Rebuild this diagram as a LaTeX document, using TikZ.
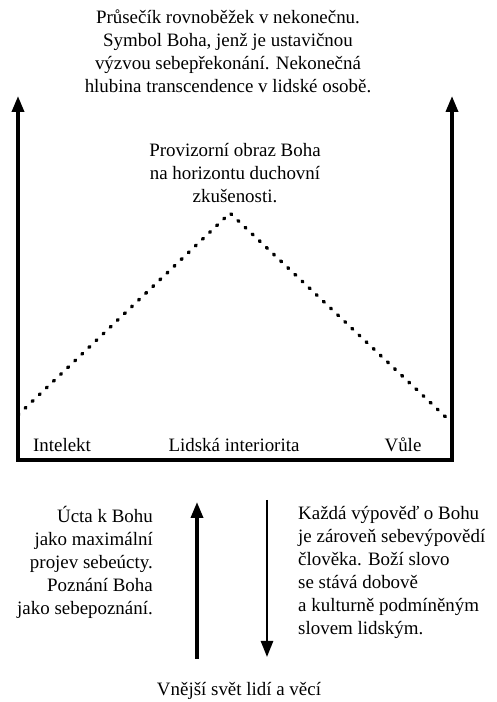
\documentclass[tikz,border=0pt]{standalone}
\usepackage{fontspec}
\setmainfont{Liberation Serif}
\usetikzlibrary{arrows.meta}

\begin{document}
\begin{tikzpicture}[x=10bp, y=10bp, every node/.style={font=\fontsize{19}{23}\selectfont, inner sep=0pt}, >={Triangle[length=16bp, width=12bp]},
	frame/.style={line width=3.5bp, line join=miter},
	dotline/.style={line width=3.5bp, line cap=round, dash pattern=on 1.2bp off 8.6bp}]
	\useasboundingbox (0,0) rectangle (49.7,70.2);
	% frame of the human interior
	\coordinate (tl) at (1.8,60.6);
	\coordinate (bl) at (1.8,24.2);
	\coordinate (br) at (45.2,24.2);
	\coordinate (tr) at (45.2,60.6);
	\draw[frame, <->] (tl) -- (bl) -- (br) -- (tr);
	% horizon of spiritual experience
	\coordinate (hl) at (1.8,28.7);
	\coordinate (peak) at (23.0,48.9);
	\coordinate (hr) at (45.2,27.9);
	\draw[dotline] (hl) -- (peak) -- (hr);
	\node[align=center] (infinity) at (22.8,65.1) {Průsečík rovnoběžek v nekonečnu.\\ Symbol Boha, jenž je ustavičnou\\ výzvou sebepřekonání. Nekonečná\\ hlubina transcendence v lidské osobě.};
	\node[align=center] (image) at (23.5,52.9) {Provizorní obraz Boha\\ na horizontu duchovní\\ zkušenosti.};
	\node (intellect) at (6.2,25.7) {Intelekt};
	\node (interior) at (23.4,25.7) {Lidská interiorita};
	\node (will) at (40.3,25.7) {Vůle};
	% outer world
	\coordinate (upfoot) at (19.7,4.3);
	\coordinate (uphead) at (19.7,20.0);
	\coordinate (downtop) at (26.7,20.2);
	\coordinate (downhead) at (26.7,4.5);
	\draw[->, line width=3.5bp] (upfoot) -- (uphead);
	\draw[->, line width=2.5bp] (downtop) -- (downhead);
	\node[align=right, anchor=east] (respect) at (15.3,13.95) {Úcta k Bohu\\ jako maximální\\ projev sebeúcty.\\ Poznání Boha\\ jako sebepoznání.};
	\node[align=left, anchor=west] (utterance) at (29.8,12.95) {Každá výpověď o Bohu\\ je zároveň sebevýpovědí\\ člověka. Boží slovo\\ se stává dobově\\ a kulturně podmíněným\\ slovem lidským.};
	\node (world) at (23.9,1.1) {Vnější svět lidí a věcí};
\end{tikzpicture}
\end{document}
